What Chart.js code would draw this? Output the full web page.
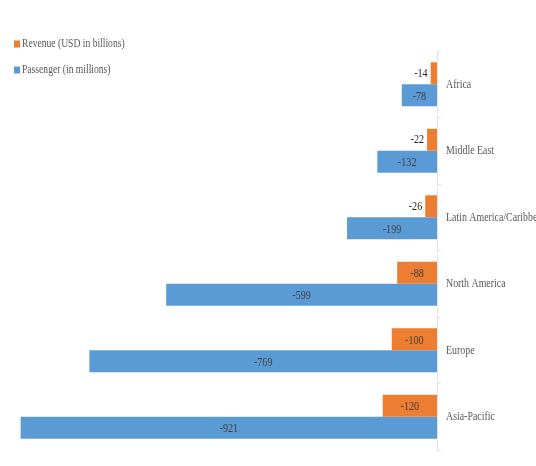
<!DOCTYPE html>
<html>
<head>
<meta charset="utf-8">
<script src="https://cdn.jsdelivr.net/npm/chart.js@4.4.1/dist/chart.umd.min.js"></script>
<style>
html,body{margin:0;padding:0;background:#fff;}
#wrap{width:536px;height:466px;position:relative;}
</style>
</head>
<body>
<div id="wrap"><canvas id="c" width="536" height="466"></canvas></div>
<script>
const categories = ["Africa", "Middle East", "Latin America/Caribbean", "North America", "Europe", "Asia-Pacific"];
const revenue = [-14, -22, -26, -88, -100, -120];
const passengers = [-78, -132, -199, -599, -769, -921];
const seriesNames = ["Revenue (USD in billions)", "Passenger (in millions)"];
const seriesColors = ["#ED7D31", "#5B9BD5"];

const FONT = "'Liberation Serif', 'Times New Roman', serif";

function drawText(ctx, txt, x, y, align, sx) {
  ctx.save();
  ctx.translate(x, y);
  ctx.scale(sx, 1);
  ctx.textAlign = align;
  ctx.fillText(txt, 0, 0);
  ctx.restore();
}

const legendPlugin = {
  id: 'customLegend',
  afterDraw(chart) {
    const ctx = chart.ctx;
    ctx.save();
    ctx.font = "12px " + FONT;
    ctx.textBaseline = 'middle';
    const ys = [44, 70];
    seriesNames.forEach((name, i) => {
      ctx.fillStyle = seriesColors[i];
      ctx.fillRect(14, ys[i] - 3.5, 6, 7);
      ctx.fillStyle = '#595959';
      drawText(ctx, name, 22, ys[i], 'left', 0.8);
    });
    ctx.restore();
  }
};

const categoryLabelPlugin = {
  id: 'catLabels',
  afterDraw(chart) {
    const ctx = chart.ctx;
    const y = chart.scales.y;
    ctx.save();
    ctx.font = "13px " + FONT;
    ctx.textBaseline = 'middle';
    ctx.fillStyle = '#595959';
    categories.forEach((c, i) => {
      drawText(ctx, c, y.left + 9, y.getPixelForValue(i), 'left', 0.76);
    });
    ctx.restore();
  }
};

const labelPlugin = {
  id: 'barLabels',
  afterDatasetsDraw(chart) {
    const ctx = chart.ctx;
    ctx.save();
    ctx.font = "13px " + FONT;
    ctx.textBaseline = 'middle';
    const sx = 0.78;
    chart.data.datasets.forEach((ds, di) => {
      const meta = chart.getDatasetMeta(di);
      meta.data.forEach((bar, i) => {
        const txt = String(ds.data[i]);
        const w = ctx.measureText(txt).width * sx;
        const barW = Math.abs(bar.base - bar.x);
        if (barW < w + 4) {
          ctx.fillStyle = '#262626';
          drawText(ctx, txt, Math.min(bar.x, bar.base) - 3, bar.y, 'right', sx);
        } else {
          ctx.fillStyle = '#404040';
          drawText(ctx, txt, (bar.x + bar.base) / 2, bar.y + 1, 'center', sx);
        }
      });
    });
    ctx.restore();
  }
};

new Chart(document.getElementById('c'), {
  type: 'bar',
  data: {
    labels: categories,
    datasets: [
      { label: seriesNames[0], data: revenue, backgroundColor: seriesColors[0], categoryPercentage: 0.66, barPercentage: 1.0 },
      { label: seriesNames[1], data: passengers, backgroundColor: seriesColors[1], categoryPercentage: 0.66, barPercentage: 1.0 }
    ]
  },
  options: {
    indexAxis: 'y',
    responsive: false,
    animation: false,
    layout: { padding: { top: 51, bottom: 16, left: 3, right: 0 } },
    plugins: { legend: { display: false }, tooltip: { enabled: false } },
    scales: {
      x: { display: false, min: -960, max: 0 },
      y: {
        position: 'right',
        afterFit(scale) { scale.width = 99; },
        border: { display: true, color: '#e3e3e3', width: 1 },
        grid: { display: true, drawOnChartArea: false, offset: true, tickLength: 4, color: '#e3e3e3' },
        ticks: { display: false, autoSkip: false }
      }
    }
  },
  plugins: [legendPlugin, categoryLabelPlugin, labelPlugin]
});
</script>
</body>
</html>
